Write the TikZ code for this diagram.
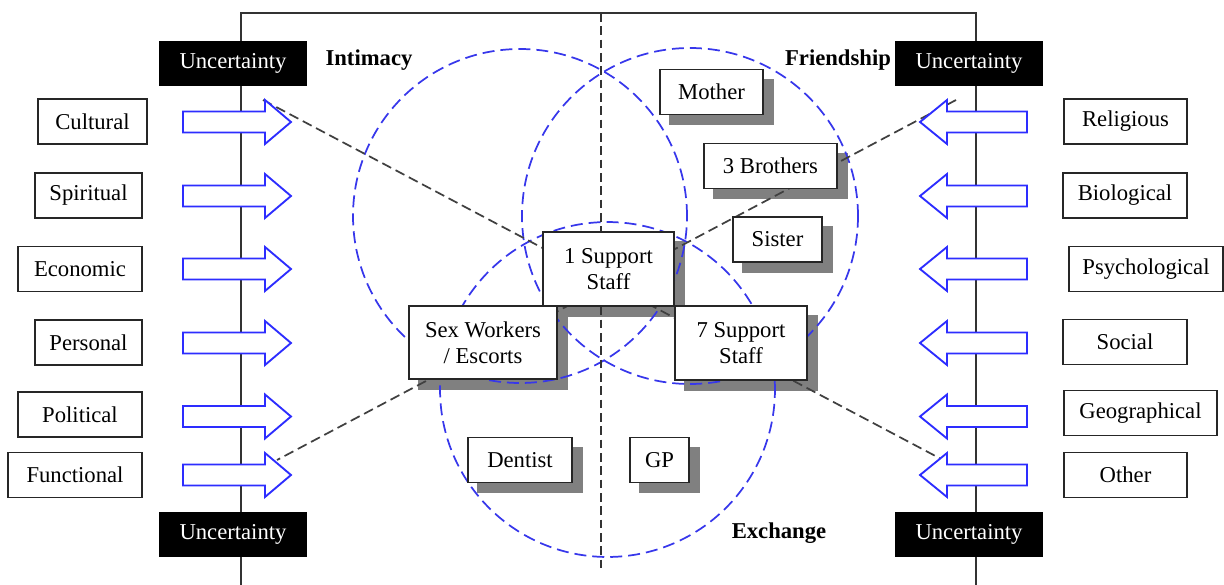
\documentclass[tikz,border=0pt]{standalone}
\usepackage{fontspec}
\setmainfont{Liberation Serif}
\definecolor{cblue}{RGB}{55,55,235}
\definecolor{ablue}{RGB}{45,45,255}
\definecolor{shgray}{RGB}{128,128,128}
\pgfdeclarelayer{shadowlayer}
\pgfdeclarelayer{midlayer}
\pgfsetlayers{shadowlayer,midlayer,main}
\tikzset{
  txt/.style={font=\fontsize{17}{19.5}\selectfont},
  lbl/.style={txt, draw=black!85, line width=1.3pt, fill=white, inner sep=0pt,
              minimum height=33.75pt, align=center},
  unc/.style={txt, fill=black, text=white, inner sep=0pt,
              minimum width=111pt, minimum height=33.75pt},
  headtxt/.style={font=\fontsize{17}{19.5}\selectfont\bfseries},
  circ/.style={draw=cblue, dash pattern=on 9pt off 4.5pt, line width=1.3pt},
  cross/.style={draw=black!75, dash pattern=on 7.5pt off 3.75pt, line width=1.3pt},
  vdash/.style={draw=black!80, dash pattern=on 6.5pt off 3.5pt, line width=1.2pt},
  arr/.style={draw=ablue, fill=white, line width=1.4pt, line join=miter},
  frame/.style={draw=black!80, line width=1.2pt},
}
\begin{document}
\begin{tikzpicture}[x=0.75pt,y=-0.75pt]
\useasboundingbox (0,0) rectangle (1224,585);

% frame
\draw[frame] (241,585) -- (241,13) -- (976,13) -- (976,585);

% uncertainty boxes
\node[unc] (u1) at (233,63.5) {Uncertainty};
\node[unc] (u2) at (233,534) {Uncertainty};
\node[unc] (u3) at (969,63.5) {Uncertainty};
\node[unc] (u4) at (969,534) {Uncertainty};

% left labels
\node[lbl, minimum width=81.75pt] (cul) at (92.5,121.5) {Cultural};
\node[lbl, minimum width=80.25pt] (spi) at (88.5,195.5) {Spiritual};
\node[lbl, minimum width=93pt]    (eco) at (80,269) {Economic};
\node[lbl, minimum width=80.25pt] (per) at (88.5,342.5) {Personal};
\node[lbl, minimum width=93pt]    (pol) at (80,414.5) {Political};
\node[lbl, minimum width=100.5pt] (fun) at (75,475) {Functional};

% right labels
\node[lbl, minimum width=92.25pt]  (rel) at (1125.5,121.5) {Religious};
\node[lbl, minimum width=93pt]     (bio) at (1125,195.5) {Biological};
\node[lbl, minimum width=115.5pt]  (psy) at (1146,269) {Psychological};
\node[lbl, minimum width=93pt]     (soc) at (1125,342) {Social};
\node[lbl, minimum width=114.75pt] (geo) at (1140.5,413) {Geographical};
\node[lbl, minimum width=92.25pt]  (oth) at (1125.5,475) {Other};

% arrows
\foreach \y in {122,196,269,343,416.5,475}{
  \draw[arr] (183,\y-10.5) -- (265,\y-10.5) -- (265,\y-22) -- (291,\y)
             -- (265,\y+22) -- (265,\y+10.5) -- (183,\y+10.5) -- cycle;
  \draw[arr] (1027,\y-10.5) -- (947,\y-10.5) -- (947,\y-22) -- (920,\y)
             -- (947,\y+22) -- (947,\y+10.5) -- (1027,\y+10.5) -- cycle;
}
\coordinate (a1) at (263,100);
\coordinate (a2) at (943,460);
\coordinate (a3) at (956,100);
\coordinate (a4) at (277,460);

% headings
\node[headtxt] (hint) at (369,60) {Intimacy};
\node[headtxt] (hfri) at (838,60) {Friendship};
\node[headtxt] (hexc) at (779,533) {Exchange};

% centre boxes
\node[lbl, minimum width=77.25pt] (mother) at (711.5,92) {Mother};
\node[lbl, minimum width=99.75pt] (bro) at (770.5,166) {3 Brothers};
\node[lbl, minimum width=66.75pt] (sis) at (777.5,239.5) {Sister};
\node[lbl, minimum width=98.25pt, minimum height=55.5pt] (s1) at (608.5,269) {1 Support\\Staff};
\node[lbl, minimum width=111pt, minimum height=54.75pt] (sex) at (483,342.5) {Sex Workers\\/ Escorts};
\node[lbl, minimum width=99pt, minimum height=55.5pt] (s7) at (741,343) {7 Support\\Staff};
\node[lbl, minimum width=78pt] (den) at (520,460) {Dentist};
\node[lbl, minimum width=44.25pt] (gp) at (659.5,460) {GP};

% shadows
\begin{pgfonlayer}{shadowlayer}
\foreach \n in {mother,bro,sis,s1,sex,s7,den,gp}{
  \fill[shgray] ([shift={(10,10)}]\n.south west) rectangle ([shift={(10,10)}]\n.north east);
}
\end{pgfonlayer}

% circles and dashed lines
\begin{pgfonlayer}{midlayer}
\draw[circ] (520,216) circle[radius=125.25pt];
\draw[circ] (690,216) circle[radius=126pt];
\draw[circ] (607.5,389.5) circle[radius=125.6pt];
\draw[vdash] (601,13) -- (601,573);
\draw[cross] (a1) -- (a2);
\draw[cross] (a3) -- (a4);
\end{pgfonlayer}
\end{tikzpicture}
\end{document}
